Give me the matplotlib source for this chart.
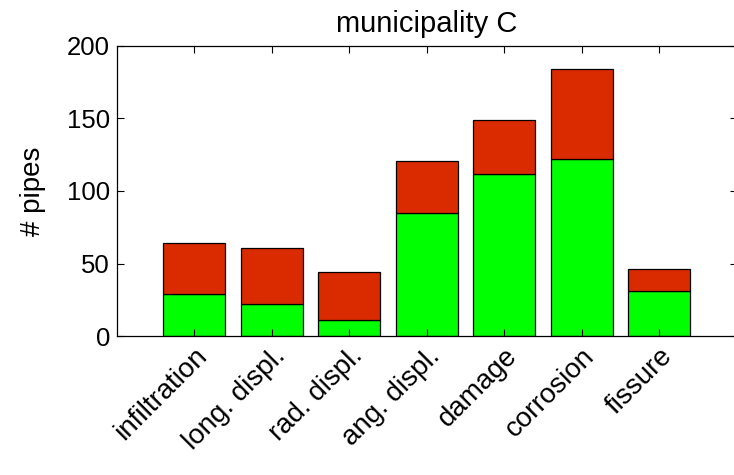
import numpy as np
import matplotlib.pyplot as plt

plt.rcParams['font.family'] = ['Liberation Sans', 'DejaVu Sans']

categories = ['infiltration', 'long. displ.', 'rad. displ.', 'ang. displ.',
              'damage', 'corrosion', 'fissure']
green_counts = [29, 22, 11, 85, 112, 122, 31]
red_counts = [35, 39, 33, 36, 37, 62, 15]

x = np.arange(1, len(categories) + 1)

fig = plt.figure(figsize=(7.34, 4.75), dpi=100)
ax = fig.add_axes([0.1594, 0.2926, 0.8441, 0.6106])

ax.bar(x, green_counts, width=0.8, color='#00ff00', edgecolor='black', linewidth=0.9)
ax.bar(x, red_counts, width=0.8, bottom=green_counts, color='#d92a00',
       edgecolor='black', linewidth=0.9)

ax.set_xlim(0, 8)
ax.set_ylim(0, 200)
ax.set_yticks([0, 50, 100, 150, 200])
ax.set_xticks(x)
ax.set_xticklabels(categories, rotation=45, ha='right', rotation_mode='anchor')
ax.tick_params(direction='in', length=5, width=0.8, top=True, right=True,
               labelsize=18.5, pad=5)
ax.tick_params(axis='x', labelsize=20)
for s in ax.spines.values():
    s.set_linewidth(0.9)

ax.set_ylabel('# pipes', fontsize=20, labelpad=15)
ax.set_title('municipality C', fontsize=21, pad=10)

fig.savefig('out.png', dpi=100)
